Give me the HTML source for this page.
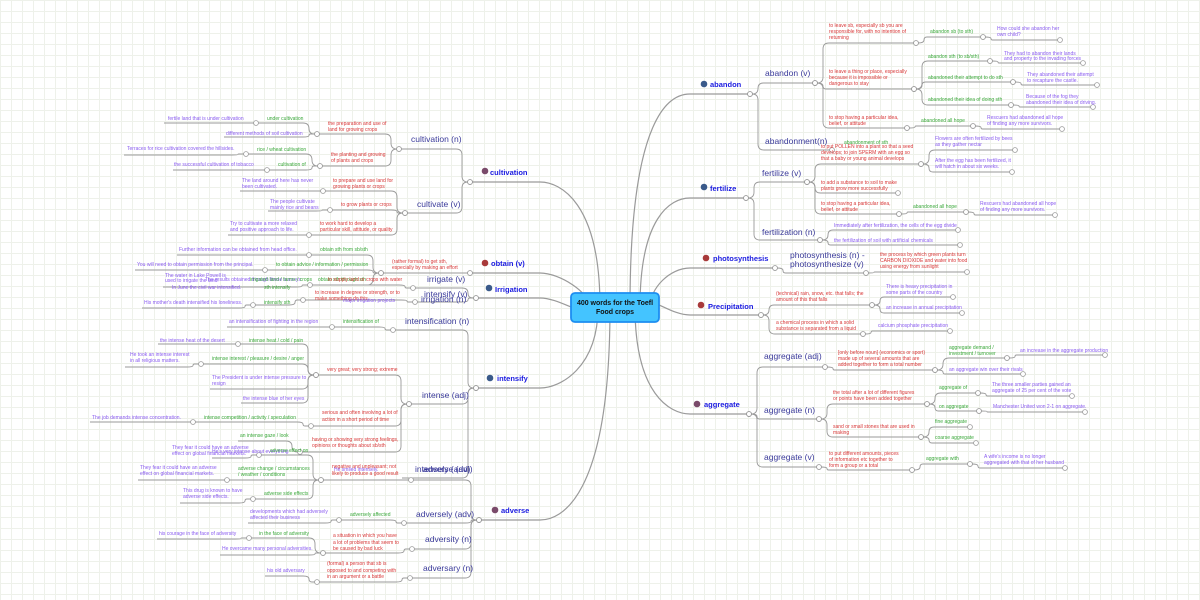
<!DOCTYPE html>
<html><head><meta charset="utf-8"><style>
html,body{margin:0;padding:0;width:1200px;height:600px;overflow:hidden;background:#fff;
background-image:linear-gradient(#eef1ea 1px,transparent 1px),linear-gradient(90deg,#eef1ea 1px,transparent 1px);background-size:11px 11px;}
svg{position:absolute;left:0;top:0}
text{font-family:"Liberation Sans",sans-serif;font-size:5px}
.r{fill:#d83838}.g{fill:#3aa83a}.p{fill:#8a5cf0}
.w{fill:#3a3a9a;font-size:8.5px}
.t{fill:#1a1ae0;font-size:7.5px;font-weight:bold}
</style></head><body>
<svg id="s" width="1200" height="600" viewBox="0 0 1200 600">
<g id="lines" fill="none" stroke="#9a9a9a" stroke-width="0.9"></g>
<g id="circ" fill="#fff" stroke="#999" stroke-width="0.8"></g>
<rect x="571" y="293" width="88" height="29" rx="4" fill="#44c4ff" stroke="#1d8df0" stroke-width="1.8"/>
<text x="615" y="305" text-anchor="middle" style="font-size:7px;font-weight:bold;fill:#111">400 words for the Toefl</text>
<text x="615" y="314" text-anchor="middle" style="font-size:7px;font-weight:bold;fill:#111">Food crops</text>

<!-- topics -->
<circle cx="485" cy="171" r="3.3" fill="#7a4a6a"/><text class="t" x="490" y="175">cultivation</text>
<circle cx="485" cy="263" r="3.3" fill="#a83a3a"/><text class="t" x="491" y="266">obtain (v)</text>
<circle cx="489" cy="288" r="3.3" fill="#3a5a8a"/><text class="t" x="495" y="292">Irrigation</text>
<circle cx="490" cy="378" r="3.3" fill="#3a5a8a"/><text class="t" x="497" y="381">intensify</text>
<circle cx="495" cy="510" r="3.3" fill="#7a4a6a"/><text class="t" x="501" y="513">adverse</text>
<circle cx="704" cy="84" r="3.3" fill="#3a5a8a"/><text class="t" x="710" y="87">abandon</text>
<circle cx="704" cy="187" r="3.3" fill="#3a5a8a"/><text class="t" x="710" y="191">fertilize</text>
<circle cx="706" cy="258" r="3.3" fill="#a83a3a"/><text class="t" x="713" y="261">photosynthesis</text>
<circle cx="701" cy="305" r="3.3" fill="#a83a3a"/><text class="t" x="708" y="309">Precipitation</text>
<circle cx="697" cy="404" r="3.3" fill="#7a4a6a"/><text class="t" x="704" y="407">aggregate</text>

<!-- words left -->
<text class="w" x="411" y="142">cultivation (n)</text>
<text class="w" x="417" y="207">cultivate (v)</text>
<text class="w" x="427" y="282">irrigate (v)</text>
<text class="w" x="424" y="297">intensify (v)</text>
<text class="w" x="421" y="302">irrigation (n)</text>
<text class="w" x="405" y="324">intensification (n)</text>
<text class="w" x="422" y="398">intense (adj)</text>
<text class="w" x="415" y="472">intensely (adv)</text>
<text class="w" x="423" y="472">adverse (adj)</text>
<text class="w" x="416" y="517">adversely (adv)</text>
<text class="w" x="425" y="542">adversity (n)</text>
<text class="w" x="423" y="571">adversary (n)</text>
<!-- words right -->
<text class="w" x="765" y="76">abandon (v)</text>
<text class="w" x="765" y="144">abandonment(n)</text>
<text class="w" x="762" y="176">fertilize (v)</text>
<text class="w" x="762" y="235">fertilization (n)</text>
<text class="w" x="790" y="258">photosynthesis (n) -</text>
<text class="w" x="790" y="267">photosynthesize (v)</text>
<text class="w" x="764" y="359">aggregate (adj)</text>
<text class="w" x="764" y="413">aggregate (n)</text>
<text class="w" x="764" y="460">aggregate (v)</text>

<!-- left small texts -->
<text class="p" x="168" y="120">fertile land that is under cultivation</text>
<text class="g" x="267" y="120">under cultivation</text>
<text class="r" x="328" y="125">the preparation and use of</text><text class="r" x="328" y="131">land for growing crops</text>
<text class="p" x="226" y="135">different methods of soil cultivation</text>
<text class="p" x="127" y="150">Terraces for rice cultivation covered the hillsides.</text>
<text class="g" x="257" y="151">rice / wheat cultivation</text>
<text class="r" x="331" y="156">the planting and growing</text><text class="r" x="331" y="162">of plants and crops</text>
<text class="p" x="174" y="166">the successful cultivation of tobacco</text>
<text class="g" x="278" y="166">cultivation of</text>
<text class="p" x="242" y="182">The land around here has never</text><text class="p" x="242" y="188">been cultivated.</text>
<text class="r" x="333" y="182">to prepare and use land for</text><text class="r" x="333" y="188">growing plants or crops</text>
<text class="p" x="270" y="203">The people cultivate</text><text class="p" x="270" y="209">mainly rice and beans</text>
<text class="r" x="341" y="206">to grow plants or crops</text>
<text class="p" x="230" y="225">Try to cultivate a more relaxed</text><text class="p" x="230" y="231">and positive approach to life.</text>
<text class="r" x="320" y="225">to work hard to develop a</text><text class="r" x="320" y="231">particular skill, attitude, or quality</text>
<text class="p" x="179" y="251">Further information can be obtained from head office.</text>
<text class="g" x="320" y="251">obtain sth from sb/sth</text>
<text class="r" x="392" y="263">(rather formal) to get sth,</text><text class="r" x="392" y="269">especially by making an effort</text>
<text class="p" x="137" y="266">You will need to obtain permission from the principal.</text>
<text class="g" x="276" y="266">to obtain advice / information / permission</text>
<text class="p" x="165" y="277">The water in Lake Powell is</text><text class="p" x="165" y="282">used to irrigate the land.</text>
<text class="p" x="205" y="281">The results obtained through these surveys</text>
<text class="g" x="250" y="281">irrigated land / farms / crops</text>
<text class="g" x="318" y="281">obtain sth through sth</text>
<text class="r" x="328" y="281">to supply land or crops with water</text>
<text class="p" x="172" y="289">In June the civil war intensified.</text>
<text class="g" x="264" y="289">sth intensify</text>
<text class="r" x="315" y="294">to increase in degree or strength, or to</text><text class="r" x="315" y="300">make something do this</text>
<text class="p" x="343" y="302">major irrigation projects</text>
<text class="p" x="144" y="304">His mother's death intensified his loneliness.</text>
<text class="g" x="264" y="304">intensify sth</text>
<text class="p" x="229" y="323">an intensification of fighting in the region</text>
<text class="g" x="343" y="323">intensification of</text>
<text class="p" x="160" y="342">the intense heat of the desert</text>
<text class="g" x="249" y="342">intense heat / cold / pain</text>
<text class="p" x="130" y="356">He took an intense interest</text><text class="p" x="130" y="362">in all religious matters.</text>
<text class="g" x="212" y="360">intense interest / pleasure / desire / anger</text>
<text class="r" x="327" y="371">very great; very strong; extreme</text>
<text class="p" x="212" y="379">The President is under intense pressure to</text><text class="p" x="212" y="385">resign</text>
<text class="p" x="243" y="400">the intense blue of her eyes</text>
<text class="p" x="92" y="419">The job demands intense concentration.</text>
<text class="g" x="204" y="419">intense competition / activity / speculation</text>
<text class="r" x="322" y="414">serious and often involving a lot of</text><text class="r" x="322" y="421">action in a short period of time</text>
<text class="g" x="240" y="437">an intense gaze / look</text>
<text class="r" x="312" y="441">having or showing very strong feelings,</text><text class="r" x="312" y="447">opinions or thoughts about sb/sth</text>
<text class="p" x="172" y="449">They fear it could have an adverse</text><text class="p" x="172" y="455">effect on global financial markets.</text>
<text class="p" x="212" y="453">He's very intense about everything</text>
<text class="g" x="270" y="452">adverse effect on</text>
<text class="p" x="140" y="469">They fear it could have an adverse</text><text class="p" x="140" y="475">effect on global financial markets.</text>
<text class="g" x="238" y="470">adverse change / circumstances</text><text class="g" x="238" y="476">/ weather / conditions</text>
<text class="r" x="332" y="468">negative and unpleasant; not</text><text class="r" x="332" y="475">likely to produce a good result</text>
<text class="p" x="334" y="471">He smiled intensely.</text>
<text class="p" x="183" y="492">This drug is known to have</text><text class="p" x="183" y="498">adverse side effects.</text>
<text class="g" x="264" y="495">adverse side effects</text>
<text class="p" x="250" y="513">developments which had adversely</text><text class="p" x="250" y="519">affected their business</text>
<text class="g" x="350" y="516">adversely affected</text>
<text class="p" x="159" y="535">his courage in the face of adversity</text>
<text class="g" x="259" y="535">in the face of adversity</text>
<text class="r" x="333" y="537">a situation in which you have</text><text class="r" x="333" y="544">a lot of problems that seem to</text><text class="r" x="333" y="550">be caused by bad luck</text>
<text class="p" x="222" y="550">He overcame many personal adversities.</text>
<text class="r" x="327" y="565">(formal) a person that sb is</text><text class="r" x="327" y="572">opposed to and competing with</text><text class="r" x="327" y="578">in an argument or a battle</text>
<text class="p" x="267" y="572">his old adversary</text>

<!-- right small texts -->
<text class="r" x="829" y="27">to leave sb, especially sb you are</text><text class="r" x="829" y="33">responsible for, with no intention of</text><text class="r" x="829" y="39">returning</text>
<text class="g" x="930" y="33">abandon sb (to sth)</text>
<text class="p" x="997" y="30">How could she abandon her</text><text class="p" x="997" y="36">own child?</text>
<text class="r" x="829" y="73">to leave a thing or place, especially</text><text class="r" x="829" y="79">because it is impossible or</text><text class="r" x="829" y="85">dangerous to stay</text>
<text class="g" x="928" y="58">abandon sth (to sb/sth)</text>
<text class="p" x="1004" y="55">They had to abandon their lands</text><text class="p" x="1004" y="60">and property to the invading forces</text>
<text class="g" x="928" y="79">abandoned their attempt to do sth</text>
<text class="p" x="1027" y="76">They abandoned their attempt</text><text class="p" x="1027" y="82">to recapture the castle.</text>
<text class="g" x="928" y="101">abandoned their idea of doing sth</text>
<text class="p" x="1026" y="98">Because of the fog they</text><text class="p" x="1026" y="104">abandoned their idea of driving.</text>
<text class="r" x="829" y="119">to stop having a particular idea,</text><text class="r" x="829" y="125">belief, or attitude</text>
<text class="g" x="921" y="122">abandoned all hope</text>
<text class="p" x="987" y="119">Rescuers had abandoned all hope</text><text class="p" x="987" y="125">of finding any more survivors.</text>
<text class="g" x="844" y="144">abandonment of sth</text>
<text class="r" x="821" y="148">to put POLLEN into a plant so that a seed</text><text class="r" x="821" y="154">develops; to join SPERM with an egg so</text><text class="r" x="821" y="160">that a baby or young animal develops</text>
<text class="p" x="935" y="140">Flowers are often fertilized by bees</text><text class="p" x="935" y="146">as they gather nectar</text>
<text class="p" x="935" y="162">After the egg has been fertilized, it</text><text class="p" x="935" y="168">will hatch in about six weeks.</text>
<text class="r" x="821" y="184">to add a substance to soil to make</text><text class="r" x="821" y="190">plants grow more successfully</text>
<text class="r" x="821" y="205">to stop having a particular idea,</text><text class="r" x="821" y="211">belief, or attitude</text>
<text class="g" x="913" y="208">abandoned all hope</text>
<text class="p" x="980" y="205">Rescuers had abandoned all hope</text><text class="p" x="980" y="211">of finding any more survivors.</text>
<text class="p" x="834" y="227">Immediately after fertilization, the cells of the egg divide</text>
<text class="p" x="834" y="242">the fertilization of soil with artificial chemicals</text>
<text class="r" x="880" y="256">the process by which green plants turn</text><text class="r" x="880" y="262">CARBON DIOXIDE and water into food</text><text class="r" x="880" y="268">using energy from sunlight</text>
<text class="r" x="776" y="295">(technical) rain, snow, etc. that falls; the</text><text class="r" x="776" y="301">amount of this that falls</text>
<text class="p" x="886" y="288">There is heavy precipitation in</text><text class="p" x="886" y="294">some parts of the country</text>
<text class="p" x="886" y="309">an increase in annual precipitation</text>
<text class="r" x="776" y="324">a chemical process in which a solid</text><text class="r" x="776" y="330">substance is separated from a liquid</text>
<text class="p" x="878" y="327">calcium phosphate precipitation</text>
<text class="r" x="838" y="354">[only before noun] (economics or sport)</text><text class="r" x="838" y="360">made up of several amounts that are</text><text class="r" x="838" y="366">added together to form a total number</text>
<text class="g" x="949" y="349">aggregate demand /</text><text class="g" x="949" y="355">investment / turnover</text>
<text class="p" x="1020" y="352">an increase in the aggregate production</text>
<text class="p" x="949" y="371">an aggregate win over their rivals</text>
<text class="r" x="833" y="394">the total after a lot of different figures</text><text class="r" x="833" y="400">or points have been added together</text>
<text class="g" x="939" y="389">aggregate of</text>
<text class="p" x="992" y="386">The three smaller parties gained an</text><text class="p" x="992" y="392">aggregate of 25 per cent of the vote</text>
<text class="g" x="939" y="408">on aggregate</text>
<text class="p" x="993" y="408">Manchester United won 2-1 on aggregate.</text>
<text class="r" x="833" y="428">sand or small stones that are used in</text><text class="r" x="833" y="434">making</text>
<text class="g" x="935" y="423">fine aggregate</text>
<text class="g" x="935" y="439">coarse aggregate</text>
<text class="r" x="829" y="455">to put different amounts, pieces</text><text class="r" x="829" y="461">of information etc together to</text><text class="r" x="829" y="467">form a group or a total</text>
<text class="g" x="926" y="460">aggregate with</text>
<text class="p" x="984" y="458">A wife's income is no longer</text><text class="p" x="984" y="464">aggregated with that of her husband</text>
</svg>
<script>
var L=document.getElementById('lines'),C=document.getElementById('circ'),NS='http://www.w3.org/2000/svg';
function path(d,w){var p=document.createElementNS(NS,'path');p.setAttribute('d',d);if(w)p.setAttribute('stroke-width',w);L.appendChild(p);}
function circ(x,y){var c=document.createElementNS(NS,'circle');c.setAttribute('cx',x);c.setAttribute('cy',y);c.setAttribute('r',2.4);C.appendChild(c);}
function bend(xv,y1,y2,dir){var dy=y2-y1,s=dy>0?1:-1,r=Math.min(6,Math.abs(dy)/2);
 if(Math.abs(dy)<1)return ' L '+(xv+dir*6)+' '+y2;
 return ' Q '+xv+' '+y1+' '+xv+' '+(y1+s*r)+' L '+xv+' '+(y2-s*r)+' Q '+xv+' '+y2+' '+(xv+dir*r)+' '+y2;}
// left: child (x0,cy) -> parent (px,py)
function lf(x0,cy,px,py,w){var xv=px-8;path('M '+x0+' '+cy+' L '+(xv-6)+' '+cy+bend(xv,cy,py,1)+' L '+px+' '+py,w);circ(px,py);}
// right: parent (px,py) -> child end (cx,cy)
function rt(px,py,cx,cy,w){var xv=px+8;path('M '+px+' '+py+' L '+(xv-6)+' '+py+bend(xv,py,cy,1)+' L '+cx+' '+cy,w);circ(px,py);}
var l=[[164,123,256,123],[256,123,317,134],[224,137,317,134],[317,134,399,149],[124,155,246,154],[246,154,320,166],[173,170,267,170],[267,170,320,166],[320,166,399,149],[399,149,470,182],
[240,191,323,191],[323,191,405,213],[268,211,330,210],[330,210,405,213],[228,235,309,235],[309,235,405,213],[405,213,470,182],
[177,255,309,255],[309,255,381,273],[135,270,265,270],[265,270,381,273],[381,273,470,273],[163,287,310,285],[310,285,381,273],[310,285,413,288],[413,288,476,298],[142,308,253,305],[253,305,303,300],[303,300,415,302],[415,302,476,298],
[227,327,332,327],[332,327,393,330],[393,330,476,388],[158,344,238,344],[238,344,316,375],[125,367,201,364],[201,364,316,375],[210,389,316,375],[241,403,316,375],[316,375,409,404],[409,404,476,388],
[90,422,193,422],[193,422,311,426],[311,426,409,404],[238,441,300,452],[300,452,409,404],[402,478,476,388],
[212,458,259,455],[259,455,321,480],[138,480,227,480],[227,480,321,480],[180,503,253,499],[253,499,321,480],[321,480,411,480],[411,480,479,520],
[248,523,339,520],[339,520,404,523],[404,523,479,520],[157,539,249,538],[249,538,323,553],[220,555,323,553],[323,553,412,549],[412,549,479,520],[265,576,317,582],[317,582,410,578],[410,578,479,520]];
l.forEach(function(a){lf(a[0],a[1],a[2],a[3]);});
var r=[[750,94,815,83],[750,94,832,150],[815,83,916,43],[815,83,914,89],[815,83,907,128],[916,43,983,37],[983,37,1060,40],[914,89,990,61],[990,61,1083,63],[914,89,1013,82],[1013,82,1097,85],[914,89,1011,105],[1011,105,1093,107],[907,128,973,126],[973,126,1062,129],
[746,198,807,182],[746,198,820,240],[807,182,921,164],[921,164,1015,150],[921,164,1012,172],[807,182,898,193],[807,182,899,214],[899,214,966,212],[966,212,1055,215],[820,240,958,230],[820,240,960,245],
[775,268,866,273],[866,273,967,272],[761,315,872,305],[872,305,953,297],[872,305,962,313],[761,315,863,334],[863,334,950,331],
[749,414,825,367],[825,367,935,370],[935,370,1007,358],[1007,358,1105,355],[935,370,1023,374],[749,414,819,419],[819,419,927,404],[927,404,978,393],[978,393,1072,396],[927,404,979,411],[979,411,1085,412],[819,419,921,437],[921,437,970,427],[921,437,976,443],[749,414,819,467],[819,467,912,470],[912,470,970,464],[970,464,1065,468]];
r.forEach(function(a){rt(a[0],a[1],a[2],a[3]);});
r.forEach(function(a){circ(a[2],a[3]);});
// main trunks
[[470,182,600],[470,273,590],[476,298,585],[476,388,598],[479,520,610]].forEach(function(t){
 path('M '+t[0]+' '+t[1]+' L 540 '+t[1]+' C 560 '+t[1]+' '+t[2]+' '+(t[1]<307?t[1]+20:t[1]-20)+' '+t[2]+' 307',1.2);circ(t[0],t[1]);});
[[750,94,630],[746,198,640],[775,268,650],[761,315,650],[749,414,635]].forEach(function(t){
 path('M '+t[2]+' 307 C '+t[2]+' '+(t[1]<307?t[1]+20:t[1]-20)+' 670 '+t[1]+' 690 '+t[1]+' L '+t[0]+' '+t[1],1.2);circ(t[0],t[1]);});
var s=document.getElementById('s');s.insertBefore(L,s.firstChild);
</script>
</body></html>
